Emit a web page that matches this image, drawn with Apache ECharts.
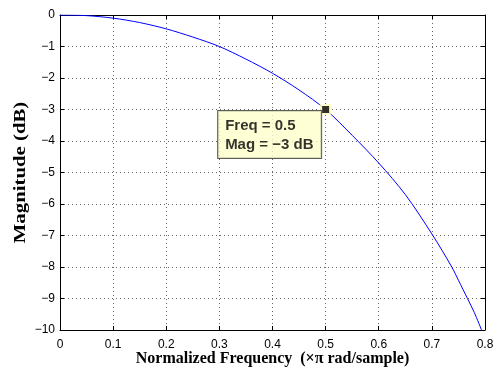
<!DOCTYPE html>
<html>
<head>
<meta charset="utf-8">
<script src="https://cdn.jsdelivr.net/npm/echarts@6/dist/echarts.min.js"></script>
<style>
html,body{margin:0;padding:0;background:#fff;}
#c{width:495px;height:367px;}
</style>
</head>
<body>
<div id="c"></div>
<script>
// Normalized frequency (x pi rad/sample)
var freq = [0, 0.05, 0.1, 0.15, 0.2, 0.25, 0.3, 0.35, 0.4, 0.45, 0.5, 0.55, 0.6, 0.65, 0.7, 0.7375, 0.75, 0.767, 0.78, 0.7935];
// Magnitude (dB)
var mag = [0, -0.02, -0.1, -0.24, -0.44, -0.7, -1.0, -1.4, -1.85, -2.38, -3.0, -3.82, -4.7, -5.7, -6.95, -8.0, -8.42, -9.0, -9.45, -10.0];
// Data tip
var tipFreq = 0.5;
var tipMag = -3;
var xTicks = [0, 0.1, 0.2, 0.3, 0.4, 0.5, 0.6, 0.7, 0.8];
var yTicks = [0, -1, -2, -3, -4, -5, -6, -7, -8, -9, -10];
var xTitle = 'Normalized Frequency  (\u00d7\u03c0 rad/sample)';
var yTitle = 'Magnitude (dB)';

var lineData = freq.map(function (f, i) { return [f, mag[i]]; });
function fmtNum(v) {
  var s = String(Math.round(v * 10) / 10);
  return s.replace('-', '\u2212');
}
var tickFont = { fontFamily: 'Liberation Sans, Arial, sans-serif', fontSize: 12, color: '#000' };
var gridLine = { show: true, lineStyle: { color: '#666', width: 1, type: [1, 3] } };
var titleFont = { fontFamily: 'Liberation Serif, Times New Roman, serif', fontWeight: 'bold', color: '#000' };

var chart = echarts.init(document.getElementById('c'), null, { renderer: 'canvas' });
chart.setOption({
  animation: false,
  backgroundColor: '#fff',
  grid: { left: 60, right: 10, top: 15, bottom: 37, containLabel: false, outerBoundsMode: 'none' },
  graphic: [{
    type: 'text', x: 20.5, y: 172.5, rotation: Math.PI / 2, scaleX: 1.3,
    style: {
      text: yTitle, font: 'bold 16px "Liberation Serif", "Times New Roman", serif',
      fill: '#000', align: 'center', verticalAlign: 'middle'
    }
  }],
  xAxis: [{
    type: 'value', min: 0, max: 0.8, interval: 0.1, position: 'bottom',
    axisLine: { show: true, onZero: false, lineStyle: { color: '#000', width: 1 } },
    axisTick: { show: true, inside: true, length: 4, lineStyle: { color: '#000' } },
    axisLabel: Object.assign({ margin: 9, formatter: fmtNum }, tickFont),
    splitLine: gridLine,
    name: xTitle,
    nameLocation: 'middle', nameGap: 21, nameMoveOverlap: false,
    nameTextStyle: Object.assign({ fontSize: 16, verticalAlign: 'top' }, titleFont)
  }, {
    type: 'value', min: 0, max: 0.8, interval: 0.1, position: 'top',
    axisLine: { show: true, onZero: false, lineStyle: { color: '#000', width: 1 } },
    axisTick: { show: true, inside: true, length: 4, lineStyle: { color: '#000' } },
    axisLabel: { show: false }, splitLine: { show: false }
  }],
  yAxis: [{
    type: 'value', min: -10, max: 0, interval: 1, position: 'left',
    axisLine: { show: true, onZero: false, lineStyle: { color: '#000', width: 1 } },
    axisTick: { show: true, inside: true, length: 4, lineStyle: { color: '#000' } },
    axisLabel: Object.assign({ margin: 5, formatter: fmtNum }, tickFont),
    splitLine: gridLine
  }, {
    type: 'value', min: -10, max: 0, interval: 1, position: 'right',
    axisLine: { show: true, onZero: false, lineStyle: { color: '#000', width: 1 } },
    axisTick: { show: true, inside: true, length: 4, lineStyle: { color: '#000' } },
    axisLabel: { show: false }, splitLine: { show: false }
  }],
  series: [{
    type: 'line', data: lineData, smooth: 0.3, showSymbol: false, symbol: 'none',
    lineStyle: { color: '#0000ff', width: 1 }, itemStyle: { color: '#0000ff' },
    clip: true, z: 3, emphasis: { disabled: true }
  }, {
    type: 'scatter', data: [[tipFreq, tipMag]], symbol: 'rect', symbolSize: 11,
    itemStyle: { color: '#ffffc4' }, z: 4, silent: true
  }, {
    type: 'scatter', data: [[tipFreq, tipMag]], symbol: 'rect', symbolSize: 7,
    itemStyle: { color: '#000' }, z: 5,
    label: {
      show: true,
      position: [-104, 5],
      align: 'left', verticalAlign: 'top',
      formatter: function () {
        return 'Freq = ' + tipFreq + '\nMag = ' + String(tipMag).replace('-', '\u2212') + ' dB';
      },
      fontFamily: 'Liberation Sans, Arial, sans-serif', fontWeight: 'bold', fontSize: 15,
      lineHeight: 19, color: '#000',
      backgroundColor: '#ffffcc', borderColor: '#333', borderWidth: 1,
      padding: [5, 6, 4, 7], width: 90
    }
  }]
});
</script>
</body>
</html>
